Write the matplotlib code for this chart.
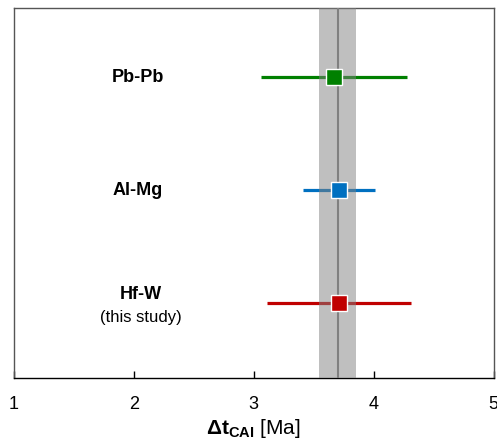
import matplotlib
matplotlib.use("Agg")
import matplotlib.pyplot as plt

# data
methods   = ["Pb-Pb", "Al-Mg", "Hf-W"]
notes     = ["", "", "(this study)"]
dt_cai    = [3.67, 3.71, 3.71]
err_lo    = [0.61, 0.30, 0.60]
err_hi    = [0.61, 0.30, 0.60]
colors    = ["#008000", "#0070C0", "#C00000"]
rows      = [3, 2, 1]
mean_dt   = 3.70
mean_err  = 0.155
xticks    = [1, 2, 3, 4, 5]

plt.rcParams["font.family"] = ["Liberation Sans", "DejaVu Sans"]
plt.rcParams["mathtext.fontset"] = "custom"
plt.rcParams["mathtext.rm"] = "Liberation Sans"
plt.rcParams["mathtext.bf"] = "Liberation Sans:bold"

fig = plt.figure(figsize=(4.97, 4.43), dpi=100)
ax = fig.add_axes([0.0282, 0.1467, 0.9648, 0.8353])

# weighted mean band, drawn semi-transparent over the error bars
ax.axvspan(mean_dt - mean_err, mean_dt + mean_err, color="#808080", alpha=0.5,
           lw=0, zorder=3)
ax.axvline(mean_dt, color="#808080", lw=1.5, zorder=3)

for y, x, lo, hi, c in zip(rows, dt_cai, err_lo, err_hi, colors):
    ax.plot([x - lo, x + hi], [y, y], color=c, lw=2.3, zorder=2,
            solid_capstyle="butt")
    ax.plot(x, y, marker="s", ms=11, mfc=c, mec="white", mew=1.0, zorder=4)

for y, name, note in zip(rows, methods, notes):
    if note:
        ax.text(2.06, y + 0.07, name, ha="center", va="center",
                fontsize=13, fontweight="bold")
        ax.text(2.06, y - 0.13, note, ha="center", va="center", fontsize=12)
    else:
        ax.text(2.03, y, name, ha="center", va="center",
                fontsize=13, fontweight="bold")

ax.set_xlim(1, 5)
ax.set_ylim(0.334, 3.613)
ax.set_xticks(xticks)
ax.set_xticklabels([str(t) for t in xticks], fontsize=13)
ax.set_yticks([])
ax.tick_params(axis="x", direction="in", length=5, width=1, pad=13)
for side in ["top", "left", "right"]:
    ax.spines[side].set_color("#555555")
ax.spines["bottom"].set_color("black")
for s in ax.spines.values():
    s.set_linewidth(1.0)

ax.set_xlabel(r"$\mathbf{\Delta t_{CAI}}$ [Ma]", fontsize=15, labelpad=3)

fig.savefig("out.png", dpi=100)
